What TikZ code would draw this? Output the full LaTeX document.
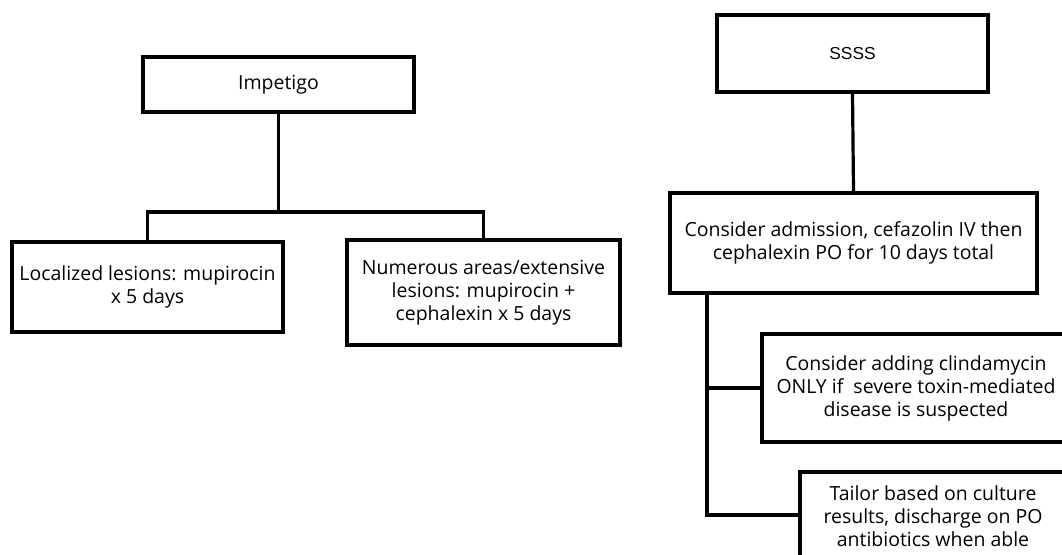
\documentclass[tikz,border=0pt]{standalone}
\usepackage{fontspec}
\setmainfont{Open Sans}
\newfontfamily\arialfont{Liberation Sans}
\begin{document}
\begin{tikzpicture}[x=0.75pt,y=-0.75pt,
  box/.style={draw=black,line width=2.4pt,rectangle,align=center,inner sep=0pt,
    font=\fontsize{14.6}{17.3}\selectfont},
  link/.style={draw=black,line width=2.4pt,line join=miter}]
\useasboundingbox (0,0) rectangle (1062,554);
\clip (0,0) rectangle (1062,554);
\fill[white] (0,0) rectangle (1062,554);
% Impetigo tree
\node[box,minimum width=271pt*0.75,minimum height=55pt*0.75] (imp) at (278.5,84.5) {Impetigo};
\node[box,minimum width=271pt*0.75,minimum height=90pt*0.75] (loc) at (147.5,287) {Localized lesions: mupirocin\\x 5 days};
\node[box,minimum width=273pt*0.75,minimum height=105pt*0.75] (num) at (483.5,292.5) {Numerous areas/extensive\\lesions: mupirocin +\\cephalexin x 5 days};
\coordinate (j1) at (278.5,212);
\draw[link] (imp.south) -- (j1);
\draw[link] (loc.north) |- (j1);
\draw[link] (j1) -| (num.north);
% SSSS tree
\node[box,minimum width=271pt*0.75,minimum height=77pt*0.75,font=\arialfont\fontsize{13}{16}\selectfont] (ssss) at (852.5,53.5) {SSSS};
\node[box,minimum width=367pt*0.75,minimum height=100pt*0.75] (cons) at (853.5,243) {Consider admission, cefazolin IV then\\cephalexin PO for 10 days total};
\node[box,minimum width=308pt*0.75,minimum height=108pt*0.75] (clin) at (916,388) {Consider adding clindamycin\\ONLY if\ \ severe toxin-mediated\\disease is suspected};
\node[box,minimum width=266pt*0.75,minimum height=88pt*0.75] (tail) at (933,516) {Tailor based on culture\\results, discharge on PO\\antibiotics when able};
\coordinate (c1) at (707,515);
\draw[link] (ssss.south) -- (cons.north);
\draw[link] (cons.south -| c1) -- (c1) -- (c1 -| tail.west);
\draw[link] (c1 |- clin.west) -- (clin.west);
\end{tikzpicture}
\end{document}
